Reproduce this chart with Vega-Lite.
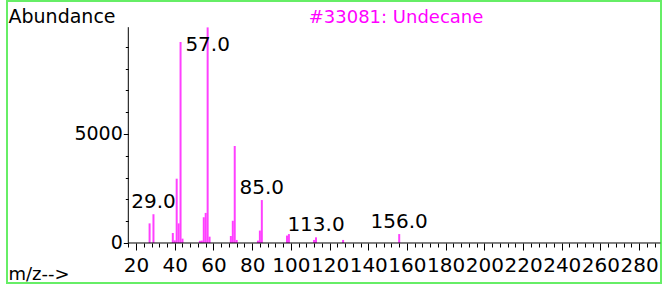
{
  "$schema": "https://vega.github.io/schema/vega-lite/v6.json",
  "width": 654,
  "height": 282,
  "autosize": "none",
  "padding": {"left": 7, "top": 1, "right": 1, "bottom": 4},
  "background": "white",
  "title": {"text": "#33081: Undecane", "color": "#ff00ff", "font": "DejaVu Sans", "fontSize": 18, "fontWeight": "normal", "anchor": "middle", "dx": 62, "dy": 18, "offset": -22, "baseline": "alphabetic"},
  "config": {"view": {"stroke": "#66ee66", "strokeWidth": 2}},
  "datasets": {
    "peaks": [
      {"mz": 27, "abundance": 900},
      {"mz": 29, "abundance": 1320},
      {"mz": 39, "abundance": 460},
      {"mz": 40, "abundance": 120},
      {"mz": 41, "abundance": 2950},
      {"mz": 42, "abundance": 900},
      {"mz": 43, "abundance": 9220},
      {"mz": 44, "abundance": 200},
      {"mz": 53, "abundance": 100},
      {"mz": 54, "abundance": 110},
      {"mz": 55, "abundance": 1180},
      {"mz": 56, "abundance": 1380},
      {"mz": 57, "abundance": 9890},
      {"mz": 58, "abundance": 290},
      {"mz": 69, "abundance": 320},
      {"mz": 70, "abundance": 1020},
      {"mz": 71, "abundance": 4450},
      {"mz": 72, "abundance": 140},
      {"mz": 83, "abundance": 110},
      {"mz": 84, "abundance": 570},
      {"mz": 85, "abundance": 1970},
      {"mz": 98, "abundance": 340},
      {"mz": 99, "abundance": 410},
      {"mz": 112, "abundance": 140},
      {"mz": 113, "abundance": 260},
      {"mz": 127, "abundance": 140},
      {"mz": 156, "abundance": 410}
    ],
    "axislines": [
      {"mz": 16, "mz2": 291, "abundance": 0, "abundance2": 0},
      {"mz": 16, "mz2": 16, "abundance": 0, "abundance2": 9900}
    ],
    "labels": [
      {"mz": 29, "abundance": 1320, "label": "29.0"},
      {"mz": 57, "abundance": 8530, "label": "57.0"},
      {"mz": 85, "abundance": 1970, "label": "85.0"},
      {"mz": 113, "abundance": 260, "label": "113.0"},
      {"mz": 156, "abundance": 410, "label": "156.0"}
    ]
  },
  "encoding": {
    "x": {
      "field": "mz", "type": "quantitative",
      "scale": {"domain": [-46.69, 291.29], "nice": false, "zero": false},
      "axis": {
        "orient": "bottom", "offset": -40, "domain": false, "grid": false,
        "values": [16,20,24,28,32,36,40,44,48,52,56,60,64,68,72,76,80,84,88,92,96,100,104,108,112,116,120,124,128,132,136,140,144,148,152,156,160,164,168,172,176,180,184,188,192,196,200,204,208,212,216,220,224,228,232,236,240,244,248,252,256,260,264,268,272,276,280,284,288],
        "labelExpr": "datum.value % 20 === 0 ? datum.value : ''",
        "labelOverlap": false, "labelFlush": false,
        "tickSize": {"condition": {"test": "datum.value % 20 === 0", "value": 7}, "value": 4},
        "tickColor": "black", "tickWidth": 1,
        "labelColor": "black", "labelFont": "DejaVu Sans", "labelFontSize": 20, "labelPadding": 5,
        "title": "m/z-->", "titleAlign": "left", "titleBaseline": "alphabetic", "titleX": 1, "titleY": 36,
        "titleFont": "DejaVu Sans", "titleFontSize": 18, "titleFontWeight": "normal", "titleColor": "black"
      }
    },
    "y": {
      "field": "abundance", "type": "quantitative",
      "scale": {"domain": [-1835, 11101], "nice": false, "zero": false},
      "axis": {
        "orient": "left", "offset": -121.3, "domain": false, "grid": false,
        "values": [0,1000,2000,3000,4000,5000,6000,7000,8000,9000],
        "labelExpr": "datum.value % 5000 === 0 ? datum.value : ''",
        "labelOverlap": false, "labelFlush": false,
        "tickSize": {"condition": {"test": "datum.value % 5000 === 0", "value": 5}, "value": 3},
        "tickColor": "black", "tickWidth": 1,
        "labelColor": "black", "labelFont": "DejaVu Sans", "labelFontSize": 19, "labelPadding": 1,
        "title": "Abundance", "titleAngle": 0, "titleAlign": "left", "titleBaseline": "alphabetic",
        "titleX": -120.3, "titleY": 21,
        "titleFont": "DejaVu Sans", "titleFontSize": 19, "titleFontWeight": "normal", "titleColor": "black"
      }
    }
  },
  "layer": [
    {
      "data": {"name": "peaks"},
      "mark": {"type": "rule", "color": "#ff40ff", "strokeWidth": 2},
      "encoding": {"y2": {"datum": 0}}
    },
    {
      "data": {"name": "axislines"},
      "mark": {"type": "rule", "color": "black", "strokeWidth": 1},
      "encoding": {"x2": {"field": "mz2"}, "y2": {"field": "abundance2"}}
    },
    {
      "data": {"name": "labels"},
      "mark": {"type": "text", "font": "DejaVu Sans", "fontSize": 20, "dy": -6, "baseline": "alphabetic", "align": "center", "color": "black"},
      "encoding": {"text": {"field": "label"}}
    }
  ]
}
